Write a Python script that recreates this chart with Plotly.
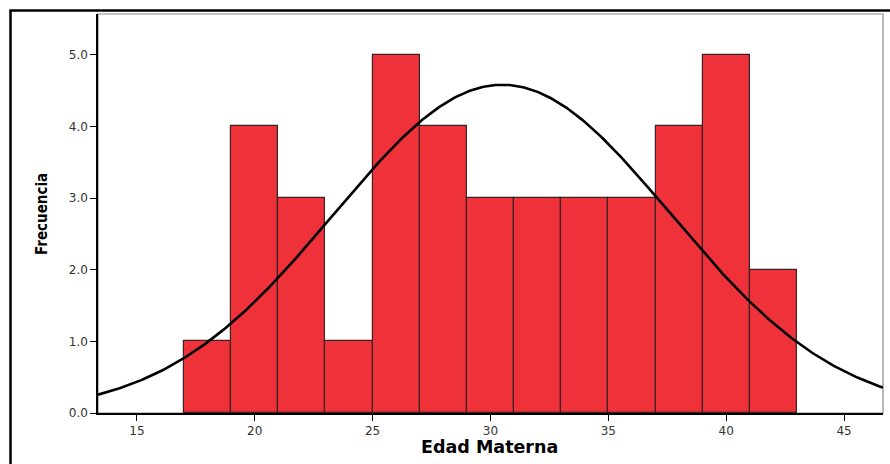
import numpy as np
import plotly.graph_objects as go

# Histogram data (Edad Materna), bins of width 2
bin_starts = [17, 19, 21, 23, 25, 27, 29, 31, 33, 35, 37, 39, 41]
counts = [1, 4, 3, 1, 5, 4, 3, 3, 3, 3, 4, 5, 2]
bin_width = 2
x_ticks = [15, 20, 25, 30, 35, 40, 45]
y_ticks = [0, 1, 2, 3, 4, 5]

# Normal curve parameters (fitted)
mean_age = 30.5
sd_age = 7.14
n_total = sum(counts)

x_range = [13.35, 46.65]
y_range = [0, 5.57]

curve_x = np.linspace(x_range[0], x_range[1], 400)
curve_y = n_total * bin_width / (sd_age * np.sqrt(2 * np.pi)) * np.exp(-0.5 * ((curve_x - mean_age) / sd_age) ** 2)

fig = go.Figure()
fig.add_trace(go.Bar(
    x=[s + bin_width / 2 for s in bin_starts],
    y=counts,
    width=[bin_width] * len(counts),
    marker=dict(color="#EF313A", line=dict(color="#3a2222", width=1.2)),
    hoverinfo="x+y",
))
fig.add_trace(go.Scatter(
    x=curve_x, y=curve_y, mode="lines",
    line=dict(color="black", width=2.6),
    hoverinfo="skip",
))

L, R, T, B = 98, 7, 14, 51
W, H = 890, 464
pw, ph = W - L - R, H - T - B

def px_x(px):
    return (px - L) / pw

def px_y(py):
    return (H - B - py) / ph

shapes = [
    # gray plot frame
    dict(type="rect", xref="paper", yref="paper", x0=0, x1=1, y0=0, y1=1,
         line=dict(color="#8a8a8a", width=1.2), layer="below"),
    # outer black frame (left and top)
    dict(type="line", xref="paper", yref="paper", x0=px_x(10.5), x1=px_x(10.5),
         y0=px_y(10), y1=px_y(470), line=dict(color="black", width=2.5)),
    dict(type="line", xref="paper", yref="paper", x0=px_x(9.5), x1=px_x(900),
         y0=px_y(10.5), y1=px_y(10.5), line=dict(color="black", width=2.5)),
]

tick_font = dict(family="DejaVu Sans, Verdana, sans-serif", size=12, color="#333333")

annotations = [
    dict(text="<b>Frecuencia</b>", xref="paper", yref="paper",
         x=px_x(42), y=px_y(214), textangle=-90, showarrow=False,
         xanchor="center", yanchor="middle",
         font=dict(family="Liberation Sans Narrow, DejaVu Sans Condensed, Arial Narrow, sans-serif",
                   size=15, color="black")),
    dict(text="<b>Edad Materna</b>", xref="paper", yref="paper",
         x=px_x(489), y=px_y(447), showarrow=False,
         xanchor="center", yanchor="middle",
         font=dict(family="DejaVu Sans, Verdana, sans-serif", size=17.5, color="black")),
]

fig.update_layout(
    width=W, height=H,
    margin=dict(l=L, r=R, t=T, b=B),
    paper_bgcolor="white", plot_bgcolor="white",
    showlegend=False,
    bargap=0,
    shapes=shapes,
    annotations=annotations,
    xaxis=dict(range=x_range, tickvals=x_ticks, ticks="outside", ticklen=6,
               tickcolor="black", showline=True, linecolor="black", linewidth=1.5,
               showgrid=False, zeroline=False, tickfont=tick_font),
    yaxis=dict(range=y_range, tickvals=y_ticks, tickformat=".1f", ticks="outside", ticklen=6,
               tickcolor="black", showline=True, linecolor="black", linewidth=1.5,
               showgrid=False, zeroline=False, tickfont=tick_font),
)

fig.write_html("out.html", config={"displayModeBar": False},
               post_script="document.body.style.margin='0';document.body.style.overflow='hidden';")
